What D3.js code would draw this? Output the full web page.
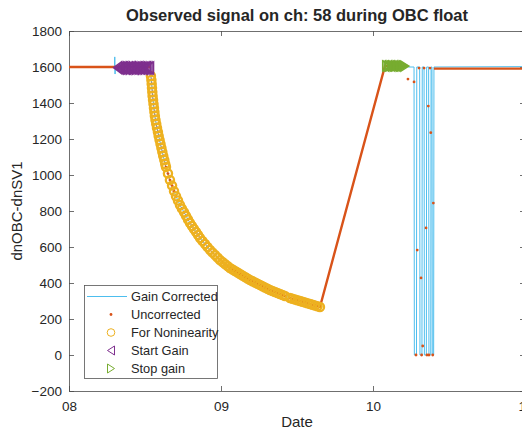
<!DOCTYPE html>
<html><head><meta charset="utf-8">
<script src="https://cdn.jsdelivr.net/npm/d3@7"></script>
<style>
body{margin:0;background:#fff}
svg{display:block}
text{font-family:"Liberation Sans",Arial,Helvetica,sans-serif;fill:#262626}
</style>
</head><body>
<svg id="c" width="522" height="431"></svg>
<script>
// ---------- data ----------
const dayTicks = [8, 9, 10, 11];
const dayTickLabels = ["08", "09", "10", "11"];
const yTicks = [-200, 0, 200, 400, 600, 800, 1000, 1200, 1400, 1600, 1800];

// "For Nonlinearity" samples (day, dn)
const nlT = [8.539,8.542,8.544,8.546,8.548,8.550,8.553,8.556,8.559,8.562,8.565,8.569,8.574,8.579,8.585,8.590,8.596,8.602,8.608,8.614,8.620,8.627,8.633,8.638,
  8.651,8.664,8.678,8.691,8.704,8.717,8.730,8.743,8.757,8.770,8.783,8.796,8.809,8.822,8.836,8.849,8.862,
  8.878,8.895,8.911,8.928,8.944,8.961,8.977,8.993,9.010,9.026,9.043,9.059,9.076,9.092,9.109,9.125,9.141,9.158,9.174,9.191,9.207,9.224,9.240,9.257,9.273,9.289,9.306,9.322,9.339,9.355,9.372,9.388,9.405,9.421,
  9.454,9.470,9.487,9.503,9.520,9.536,9.553,9.569,9.586,9.602,9.618,9.635,9.651];
const nlV = [1550,1528,1506,1483,1461,1439,1417,1394,1372,1350,1328,1306,1283,1261,1239,1217,1194,1172,1150,1128,1106,1083,1061,1044,
  1008,972,941,910,882,858,833,813,793,773,753,733,717,700,683,667,650,
  633,617,600,583,569,556,542,528,517,506,494,483,475,467,458,450,442,433,425,417,410,403,396,389,382,375,368,361,356,350,344,339,333,328,
  317,312,308,304,300,296,292,287,283,279,275,271,267];

// Gain corrected (before and after the nonlinearity segment)
const corrPreT = [8.000, 8.300, 8.301, 8.303, 8.305, 8.538];
const corrPreV = [1600, 1600, 1656, 1561, 1600, 1600];
const corrPostT = [10.079, 10.228, 10.232, 10.270, 10.272, 10.286, 10.288, 10.307, 10.309, 10.322, 10.324, 10.336, 10.338, 10.351, 10.353, 10.366, 10.368, 10.380, 10.382, 10.388, 10.390, 10.399, 10.401, 11.000];
const corrPostV = [1606, 1606, 1600, 1600, 0, 0, 1600, 1600, 0, 0, 1600, 1600, 0, 0, 1600, 1600, 0, 0, 1600, 1600, 0, 0, 1600, 1602];

// Uncorrected
const uncPreT = [8.000, 8.538];
const uncPreV = [1600, 1600];
const uncRampT = [9.651, 10.079, 10.228];
const uncRampV = [267, 1606, 1606];
const uncPostT = [10.401, 11.000];
const uncPostV = [1591, 1591];
const uncSpikeT = [10.230,10.270,10.283,10.291,10.303,10.316,10.320,10.327,10.336,10.349,10.355,10.364,10.368,10.375,10.380,10.393,10.397];
const uncSpikeV = [1533,1517,0,583,1594,428,0,50,1594,706,0,1383,0,1594,1235,0,844];

// Start / stop gain markers
const startT = [8.32,8.33,8.34,8.35,8.36,8.37,8.38,8.39,8.40,8.41,8.42,8.43,8.44,8.45,8.46,8.47,8.48,8.49,8.50,8.51,8.52,8.53];
const startV = [1596,1595,1594,1595,1596,1594,1593,1594,1595,1596,1594,1593,1595,1594,1596,1595,1594,1593,1595,1596,1594,1595];
const stopT = [10.09,10.10,10.11,10.12,10.13,10.14,10.15,10.16,10.17,10.18,10.19,10.20,10.21];
const stopV = [1606,1605,1606,1607,1606,1605,1606,1607,1606,1605,1606,1606,1605];

const legendLabels = ["Gain Corrected", "Uncorrected", "For Noninearity", "Start Gain", "Stop gain"];

// ---------- colours ----------
const cBlue = "#4DBEEE", cOrange = "#D95319", cYellow = "#EDB120", cPurple = "#7E2F8E", cGreen = "#77AC30";

// ---------- chart ----------
const svg = d3.select("#c");
const L = 69, R = 525, T = 31, B = 391;
const x = d3.scaleLinear().domain([8, 11]).range([L, R]);
const y = d3.scaleLinear().domain([-200, 1800]).range([B, T]);

const zip = (a, b) => a.map((v, i) => [v, b[i]]);
const nl = zip(nlT, nlV);
const corr = zip(corrPreT, corrPreV).concat(nl, zip(corrPostT, corrPostV));
const uncLines = [zip(uncPreT, uncPreV), zip(uncRampT, uncRampV), zip(uncPostT, uncPostV)];
const uncDots = nl.concat(zip(uncSpikeT, uncSpikeV));

const line = d3.line().x(d => x(d[0])).y(d => y(d[1]));

// axes
const axCol = "#4a4a4a";
function styleAxis(g) {
  g.selectAll("path").attr("stroke", axCol).attr("stroke-width", 0.8);
  g.selectAll("line").attr("stroke", axCol).attr("stroke-width", 0.8);
  g.selectAll("text").attr("font-size", 13.5).attr("fill", "#262626")
    .style("font-family", '"Liberation Sans",Arial,sans-serif');
}
svg.append("g").attr("transform", `translate(0,${B})`)
  .call(d3.axisBottom(x).tickValues(dayTicks).tickFormat((d, i) => dayTickLabels[i]).tickSizeInner(-5).tickSizeOuter(0).tickPadding(10))
  .call(styleAxis);
svg.append("g").attr("transform", `translate(0,${T})`)
  .call(d3.axisTop(x).tickValues(dayTicks).tickFormat("").tickSizeInner(-5).tickSizeOuter(0))
  .call(styleAxis);
svg.append("g").attr("transform", `translate(${L},0)`)
  .call(d3.axisLeft(y).tickValues(yTicks).tickFormat(d3.format("d")).tickSizeInner(-5).tickSizeOuter(0).tickPadding(7))
  .call(styleAxis);
svg.append("g").attr("transform", `translate(${R},0)`)
  .call(d3.axisRight(y).tickValues(yTicks).tickFormat("").tickSizeInner(-5).tickSizeOuter(0))
  .call(styleAxis);

// series
const gData = svg.append("g");
gData.append("path").attr("d", line(corr)).attr("fill", "none").attr("stroke", cBlue).attr("stroke-width", 1);
uncLines.forEach(seg => gData.append("path").attr("d", line(seg)).attr("fill", "none").attr("stroke", cOrange).attr("stroke-width", 2.4));
gData.selectAll("circle.unc").data(uncDots).join("circle").attr("class", "unc")
  .attr("cx", d => x(d[0])).attr("cy", d => y(d[1])).attr("r", 1.4).attr("fill", cOrange);
gData.selectAll("circle.nl").data(nl).join("circle").attr("class", "nl")
  .attr("cx", d => x(d[0])).attr("cy", d => y(d[1])).attr("r", 4.1)
  .attr("fill", "none").attr("stroke", cYellow).attr("stroke-width", 2.3);

const triL = (cx, cy, w, h) => `M${cx - w / 2},${cy}L${cx + w / 2},${cy - h / 2}L${cx + w / 2},${cy + h / 2}Z`;
const triR = (cx, cy, w, h) => `M${cx + w / 2},${cy}L${cx - w / 2},${cy - h / 2}L${cx - w / 2},${cy + h / 2}Z`;
gData.selectAll("path.sg").data(zip(startT, startV)).join("path").attr("class", "sg")
  .attr("d", d => triL(x(d[0]), y(d[1]), 8, 12)).attr("fill", "none").attr("stroke", cPurple).attr("stroke-width", 1.5);
gData.selectAll("path.eg").data(zip(stopT, stopV)).join("path").attr("class", "eg")
  .attr("d", d => triR(x(d[0]), y(d[1]), 8, 10)).attr("fill", "none").attr("stroke", cGreen).attr("stroke-width", 1.5);

// title and labels
svg.append("text").attr("x", (L + R) / 2).attr("y", 21).attr("text-anchor", "middle")
  .attr("font-size", 16.5).attr("font-weight", "bold").attr("fill", "#000")
  .text("Observed signal on ch: 58 during OBC float");
svg.append("text").attr("x", (L + R) / 2).attr("y", 427).attr("text-anchor", "middle")
  .attr("font-size", 15).text("Date");
svg.append("text").attr("transform", `translate(22,${(T + B) / 2}) rotate(-90)`).attr("text-anchor", "middle")
  .attr("font-size", 15).text("dnOBC-dnSV1");

// legend
const lg = svg.append("g");
lg.append("rect").attr("x", 84.5).attr("y", 285.5).attr("width", 133).attr("height", 93)
  .attr("fill", "#fff").attr("stroke", "#555").attr("stroke-width", 0.8);
const rows = [296.5, 314.5, 332.5, 350.5, 368.5];
legendLabels.forEach((t, i) => {
  lg.append("text").attr("x", 131).attr("y", rows[i]).attr("dy", "0.35em").attr("font-size", 12.8).text(t);
});
lg.append("line").attr("x1", 87).attr("x2", 127).attr("y1", rows[0]).attr("y2", rows[0]).attr("stroke", cBlue).attr("stroke-width", 1);
lg.append("circle").attr("cx", 111).attr("cy", rows[1]).attr("r", 1.4).attr("fill", cOrange);
lg.append("circle").attr("cx", 111).attr("cy", rows[2]).attr("r", 3.8).attr("fill", "none").attr("stroke", cYellow).attr("stroke-width", 1);
lg.append("path").attr("d", triL(111, rows[3], 7, 9)).attr("fill", "none").attr("stroke", cPurple).attr("stroke-width", 1);
lg.append("path").attr("d", triR(111, rows[4], 7, 9)).attr("fill", "none").attr("stroke", cGreen).attr("stroke-width", 1);
</script>
</body></html>
